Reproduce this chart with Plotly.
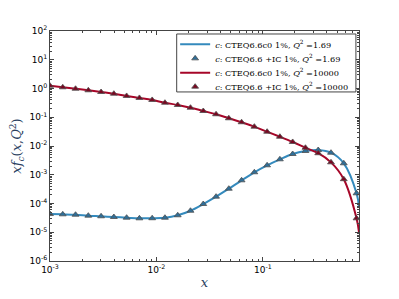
import plotly.graph_objects as go

# marker x positions (log-spaced sample points)
x_pts = [0.001, 0.001318, 0.001738, 0.002291, 0.003020, 0.003981, 0.005248, 0.006918,
         0.009120, 0.01202, 0.01585, 0.02089, 0.02754, 0.03631, 0.04786, 0.06310,
         0.08318, 0.1096, 0.1445, 0.1905, 0.2512, 0.3311, 0.4365, 0.5754, 0.7586]
x_end = 0.8

# Q^2 = 1.69 (blue)
y_low = [4.3e-5, 4.2e-5, 4.07e-5, 3.77e-5, 3.59e-5, 3.39e-5, 3.21e-5, 3.05e-5,
         3.07e-5, 3.2e-5, 3.89e-5, 5.6e-5, 9.6e-5, 1.73e-4, 3.27e-4, 6.4e-4,
         1.22e-3, 2.13e-3, 3.44e-3, 5.27e-3, 6.7e-3, 7.26e-3, 5.85e-3, 2.5e-3, 2.26e-4]
y_low_end = 7.5e-5

# Q^2 = 10000 (red)
y_high = [1.25, 1.10, 0.98, 0.865, 0.755, 0.66, 0.55, 0.47, 0.40, 0.32, 0.267, 0.215,
          0.165, 0.127, 0.092, 0.067, 0.047, 0.0314, 0.021, 0.0138, 0.0087, 0.0056,
          0.0027, 0.00070, 3.05e-5]
y_high_end = 1.0e-5

names = ["<i>c</i>: CTEQ6.6c0 1%, <i>Q</i><sup>2</sup> =1.69",
         "<i>c</i>: CTEQ6.6 +IC 1%, <i>Q</i><sup>2</sup> =1.69",
         "<i>c</i>: CTEQ6.6c0 1%, <i>Q</i><sup>2</sup> =10000",
         "<i>c</i>: CTEQ6.6 +IC 1%, <i>Q</i><sup>2</sup> =10000"]

x_ticks = [1e-3, 1e-2, 1e-1]
x_ticktext = ["10<sup>-3</sup>", "10<sup>-2</sup>", "10<sup>-1</sup>"]
y_ticks = [1e-6, 1e-5, 1e-4, 1e-3, 1e-2, 1e-1, 1, 10, 100]
y_ticktext = ["10<sup>-6</sup>", "10<sup>-5</sup>", "10<sup>-4</sup>", "10<sup>-3</sup>",
              "10<sup>-2</sup>", "10<sup>-1</sup>", "10<sup>0</sup>", "10<sup>1</sup>",
              "10<sup>2</sup>"]

blue = "#348ABD"
red = "#A60628"
marker_edge = "rgba(80,80,80,0.8)"

fig = go.Figure()
fig.add_trace(go.Scatter(x=x_pts + [x_end], y=y_low + [y_low_end], mode="lines",
                         line=dict(color=blue, width=2, shape="spline"), name=names[0],
                         legend="legend"))
fig.add_trace(go.Scatter(x=x_pts, y=y_low, mode="markers",
                         marker=dict(symbol="triangle-up", size=6, color="#2f6f99",
                                     line=dict(color=marker_edge, width=1)),
                         name=names[1], legend="legend2"))
fig.add_trace(go.Scatter(x=x_pts + [x_end], y=y_high + [y_high_end], mode="lines",
                         line=dict(color=red, width=2, shape="spline"), name=names[2],
                         legend="legend3"))
fig.add_trace(go.Scatter(x=x_pts, y=y_high, mode="markers",
                         marker=dict(symbol="triangle-up", size=6, color="#7a0620",
                                     line=dict(color=marker_edge, width=1)),
                         name=names[3], legend="legend4"))

axis_common = dict(showgrid=False, zeroline=False, showline=True, linecolor="#444",
                   linewidth=1, mirror="allticks", ticks="inside", ticklen=4,
                   tickcolor="#444", automargin=False,
                   tickfont=dict(family="DejaVu Sans", size=9, color="black"))

fig.update_xaxes(type="log", range=[-3, -0.0969], tickvals=x_ticks, ticktext=x_ticktext,
                 minor=dict(ticks="inside", ticklen=2, tickcolor="#444", dtick="D1"),
                 title=dict(text="<i>x</i>", font=dict(family="DejaVu Serif", size=13),
                            standoff=4),
                 **axis_common)
fig.update_yaxes(type="log", range=[-6, 2], tickvals=y_ticks, ticktext=y_ticktext,
                 minor=dict(ticks="inside", ticklen=2, tickcolor="#444", dtick="D1"),
                 title=dict(text="<i>xf<sub>c</sub></i>(<i>x</i>,<i>Q</i><sup>2</sup>)",
                            font=dict(family="DejaVu Serif", size=13), standoff=6),
                 **axis_common)

leg_font = dict(family="DejaVu Serif", size=8.2, color="black")
leg_common = dict(x=0.405, xanchor="left", yanchor="middle", bgcolor="rgba(0,0,0,0)",
                  borderwidth=0, font=leg_font, itemwidth=30)

fig.update_layout(
    width=399, height=299,
    margin=dict(l=42, r=48, t=23, b=46),
    paper_bgcolor="white", plot_bgcolor="white",
    showlegend=True,
    legend=dict(y=0.942, **leg_common),
    legend2=dict(y=0.881, **leg_common),
    legend3=dict(y=0.819, **leg_common),
    legend4=dict(y=0.758, **leg_common),
    shapes=[dict(type="rect", xref="paper", yref="paper", x0=0.410, x1=0.990,
                 y0=0.735, y1=0.987, fillcolor="white",
                 line=dict(color="#444", width=1), layer="above")],
)

fig.write_html("out.html")
